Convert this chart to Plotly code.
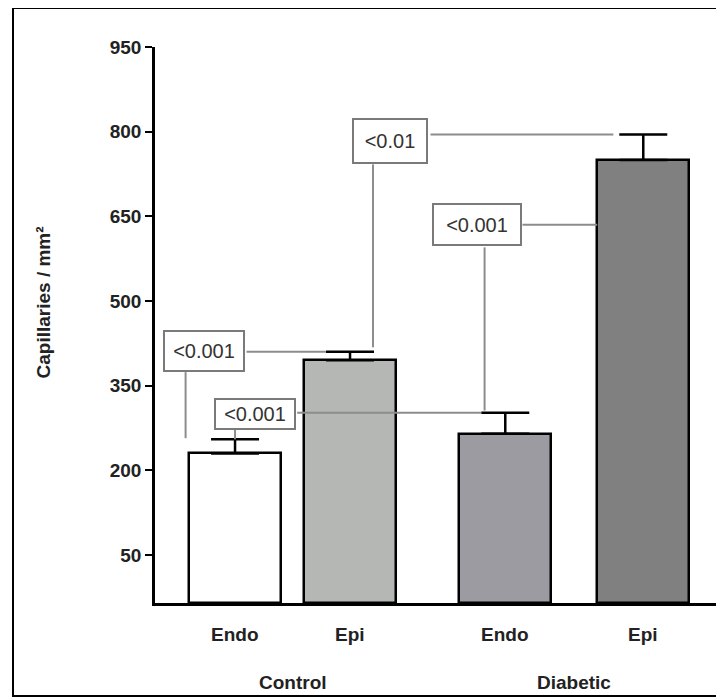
import plotly.graph_objects as go

# ---- data ----
sub_labels = ["Endo", "Epi", "Endo", "Epi"]
group_labels = ["Control", "Diabetic"]
means = [230, 395, 265, 750]
errors = [25, 15, 37, 45]
bar_colors = ["#ffffff", "#b4b7b4", "#9c9ba1", "#808080"]
y_ticks = [50, 200, 350, 500, 650, 800, 950]
p_labels = ["<0.001", "<0.001", "<0.01", "<0.001"]

# ---- layout constants (figure is offset by the page's 8px body margin) ----
OFF = 8
W, H = 724 - OFF, 698 - OFF
ML, MR, MT, MB = 155 - OFF, 0, 47 - OFF, 95
YMIN, YMAX = -35, 950
x_pos = [0.0, 1.0, 2.35, 3.55]
XMIN, XMAX = -0.696, 4.252
BAR_W = 0.8
CAP = 0.21

pw = W - ML - MR
ph = H - MT - MB


def px_x(px):  # page px -> paper
    return (px - OFF - ML) / pw


def px_y(py):
    return (H - MB - (py - OFF)) / ph


tops = [m + e for m, e in zip(means, errors)]

fig = go.Figure()
fig.add_trace(go.Bar(
    x=x_pos, y=[m - YMIN for m in means], base=YMIN, width=BAR_W,
    marker=dict(color=bar_colors, line=dict(color="black", width=2.5)),
    showlegend=False, hoverinfo="skip"))
fig.add_trace(go.Scatter(
    x=x_pos, y=means, mode="markers",
    marker=dict(size=1, color="rgba(0,0,0,0)"),
    error_y=dict(type="data", array=errors, arrayminus=[0] * 4, symmetric=False,
                 color="black", thickness=2.5, width=24),
    showlegend=False, hoverinfo="skip"))

grey = "#8c8c8c"
shapes = []


def seg(x0, y0, x1, y1):
    shapes.append(dict(type="line", x0=x0, y0=y0, x1=x1, y1=y1, xref="x", yref="y",
                       line=dict(color=grey, width=2), layer="above"))


# box centres (data coords)
boxes = [(-0.27, 411), (0.17, 300), (1.35, 783), (2.1, 635)]
box_half_w = [0.37, 0.37, 0.35, 0.40]
box_half_h = [37, 26, 41, 40]

# box1: Control Endo vs Control Epi
bx, by = boxes[0]
seg(bx + box_half_w[0], tops[1], x_pos[1] - CAP, tops[1])
seg(-0.43, by - box_half_h[0], -0.43, tops[0] + 2)
# box2: Control Endo vs Diabetic Endo
bx, by = boxes[1]
seg(bx + box_half_w[1], tops[2], x_pos[2] - CAP, tops[2])
seg(0.0, by - box_half_h[1], 0.0, tops[0])
# box3: Control Epi vs Diabetic Epi
bx, by = boxes[2]
seg(bx + box_half_w[2], tops[3], x_pos[3] - CAP - 0.05, tops[3])
seg(1.2, by - box_half_h[2], 1.2, tops[1] + 8)
# box4: Diabetic Endo vs Diabetic Epi
bx, by = boxes[3]
seg(bx + box_half_w[3], by, x_pos[3] - BAR_W / 2, by)
seg(2.17, by - box_half_h[3], 2.17, tops[2] + 4)

# outer frame
shapes.append(dict(type="rect", xref="paper", yref="paper",
                   x0=px_x(13), x1=px_x(740), y0=px_y(696), y1=px_y(8),
                   line=dict(color="black", width=2), layer="below"))

FONT = "Arial, Liberation Sans"
annotations = []
sizes = [(70, 30), (70, 20), (64, 34), (78, 31)]
for (bx, by), lab, (w, h) in zip(boxes, p_labels, sizes):
    annotations.append(dict(x=bx, y=by, xref="x", yref="y", text=lab, showarrow=False,
                            font=dict(family=FONT, size=20, color="#333333"),
                            bgcolor="white", bordercolor="#7a7a7a", borderwidth=2,
                            borderpad=4, width=w, height=h))

for xp, lab in zip(x_pos, sub_labels):
    annotations.append(dict(x=xp, y=0, xref="x", yref="paper", text=f"<b>{lab}</b>",
                            showarrow=False, yanchor="middle", yshift=-31,
                            font=dict(family=FONT, size=19, color="#222222")))
for i, lab in enumerate(group_labels):
    cx = (x_pos[2 * i] + x_pos[2 * i + 1]) / 2
    annotations.append(dict(x=cx, y=0, xref="x", yref="paper", text=f"<b>{lab}</b>",
                            showarrow=False, yanchor="middle", yshift=-79,
                            font=dict(family=FONT, size=19, color="#222222")))

annotations.append(dict(x=px_x(30), y=px_y(303), xref="paper", yref="paper",
                        text="<b>Capillaries / mm²</b>", textangle=-90, showarrow=False,
                        font=dict(family=FONT, size=19, color="#222222")))

fig.update_layout(
    width=W, height=H,
    margin=dict(l=ML, r=MR, t=MT, b=MB),
    paper_bgcolor="white", plot_bgcolor="white",
    shapes=shapes, annotations=annotations,
    xaxis=dict(range=[XMIN, XMAX], showticklabels=False, ticks="", showgrid=False,
               zeroline=False, showline=True, linecolor="black", linewidth=2.5),
    yaxis=dict(range=[YMIN, YMAX], tickvals=y_ticks,
               ticktext=[f"<b>{t}</b>" for t in y_ticks],
               ticks="outside", ticklen=7, tickwidth=2, tickcolor="black",
               showline=True, linecolor="black", linewidth=2.5, showgrid=False,
               zeroline=False,
               tickfont=dict(family=FONT, size=19, color="#222222")),
    bargap=0,
)

fig.write_html("out.html")
